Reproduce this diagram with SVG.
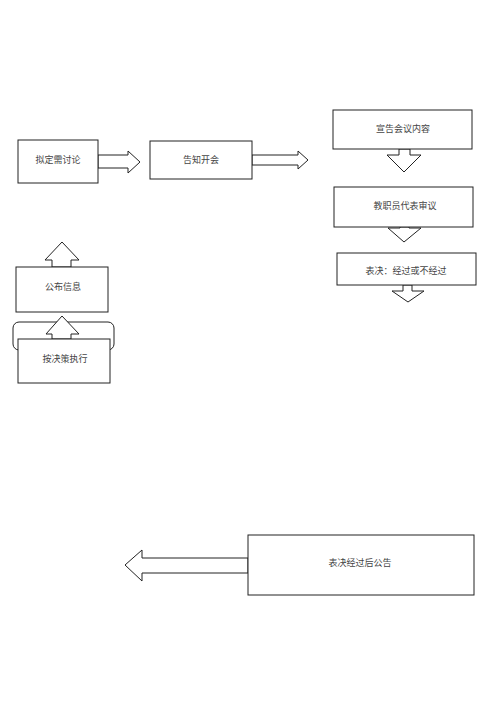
<svg xmlns="http://www.w3.org/2000/svg" width="500" height="707" viewBox="0 0 500 707">
<style>
.box{fill:#fff;stroke:#222;stroke-width:1}
.arr{fill:#fff;stroke:#222;stroke-width:1;stroke-linejoin:miter}
.t{font-family:"Noto Sans CJK SC","Noto Sans",sans-serif;font-size:9px;fill:#444;text-anchor:middle;dominant-baseline:central}
</style>
<rect width="500" height="707" fill="#fff"/>
<g id="connectors">
<polygon class="arr" points="98,155 128,155 128,151 140,162 128,173 128,168 98,168"/>
<polygon class="arr" points="252,155 298,155 298,151 308,160 298,169 298,165 252,165"/>
<polygon class="arr" points="399,149 399,155 387,155 404,172 421,155 410,155 410,149"/>
<polygon class="arr" points="400,227 400,228 388,228 404,242 421,228 409,228 409,227"/>
<polygon class="arr" points="403,285 403,291 392,291 408,302 424,291 412,291 412,285"/>
<polygon class="arr" points="248,558 142,558 142,550 125,565 142,581 142,573 248,573"/>
<polygon class="arr" points="52,267 52,260 45,260 62,242 79,260 71,260 71,267"/>
</g>
<g id="n1"><rect class="box" x="18" y="140" width="80" height="43"/><text class="t" x="58" y="159">拟定需讨论</text></g>
<g id="n2"><rect class="box" x="150" y="141" width="102" height="38"/><text class="t" x="201" y="159">告知开会</text></g>
<g id="n3"><rect class="box" x="333" y="110" width="139" height="39"/><text class="t" x="403" y="128">宣告会议内容</text></g>
<g id="n4"><rect class="box" x="334" y="187" width="139" height="40"/><text class="t" x="405" y="205">教职员代表审议</text></g>
<g id="n5"><rect class="box" x="337" y="253" width="139" height="32"/><text class="t" x="406" y="270">表决：经过或不经过</text></g>
<g id="n6"><rect class="box" x="16" y="267" width="92" height="45"/><text class="t" x="63" y="286">公布信息</text></g>
<g id="n7">
<rect class="box" x="13" y="322" width="101" height="28" rx="6"/>
<polygon class="arr" points="52,339 52,334 46,334 62,316 79,334 71,334 71,339"/>
<rect class="box" x="18" y="339" width="92" height="44"/>
<text class="t" x="65" y="358">按决策执行</text>
</g>
<g id="n8"><rect class="box" x="248" y="535" width="226" height="60"/><text class="t" x="360" y="562">表决经过后公告</text></g>
</svg>
